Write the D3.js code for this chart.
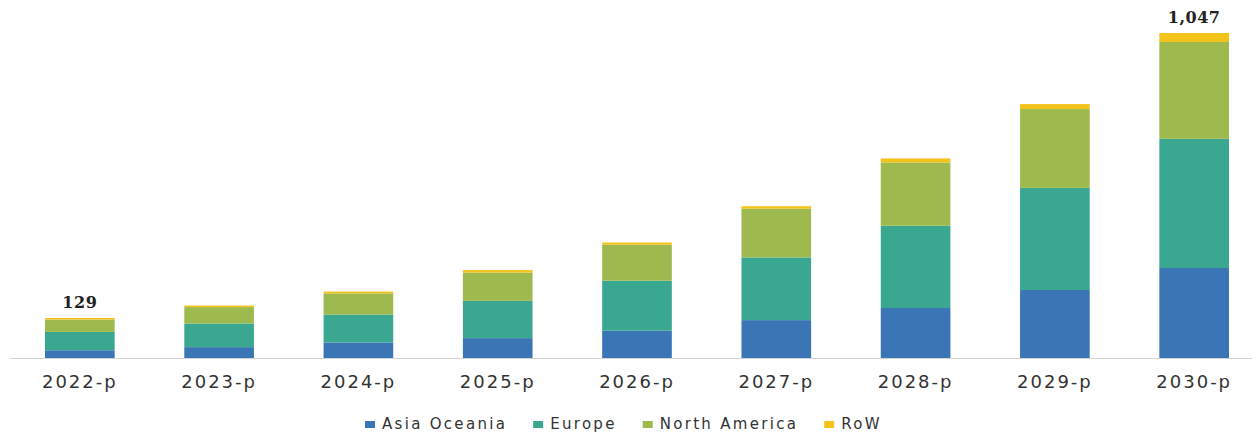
<!DOCTYPE html>
<html>
<head>
<meta charset="utf-8">
<script src="https://cdn.jsdelivr.net/npm/d3@7"></script>
<style>
  body { margin: 0; background: #fff; }
  svg { display: block; }
</style>
</head>
<body>
<div id="chart"></div>
<script>
var width = 1257
var height = 435

var years = ["2022-p", "2023-p", "2024-p", "2025-p", "2026-p", "2027-p", "2028-p", "2029-p", "2030-p"]
var regions = ["Asia Oceania", "Europe", "North America", "RoW"]
var asiaOceania  = [25, 35, 50, 64, 88, 122, 161, 219, 290]
var europe       = [59, 76, 90, 120, 161, 202, 265, 329, 416]
var northAmerica = [40, 53, 68, 91, 116, 157, 204, 254, 312]
var row          = [5, 5, 6, 8, 7, 8, 13, 16, 29]
var totalLabels  = {"2022-p": "129", "2030-p": "1,047"}
var colors = ["#3a75b6", "#3aa891", "#9eba4f", "#f3c21b"]

var table = years.map(function(y, i){
	return {
		year: y,
		"Asia Oceania": asiaOceania[i],
		"Europe": europe[i],
		"North America": northAmerica[i],
		"RoW": row[i]
	}
})

var svg = d3.select("#chart").append("svg")
	.attr("width", width)
	.attr("height", height)

var x = d3.scaleBand()
	.domain(years)
	.range([45, 1229])
	.paddingInner(0.5)
	.paddingOuter(0)

var y = d3.scaleLinear()
	.domain([0, 1047])
	.range([358, 33])

var color = d3.scaleOrdinal().domain(regions).range(colors)

var stack = d3.stack().keys(regions)(table)

svg.append("g").selectAll("g")
	.data(stack).enter()
	.append("g")
	  .attr("fill", function(d){ return color(d.key) })
	.selectAll("rect")
	.data(function(d){ return d }).enter()
	.append("rect")
	  .attr("x", function(d){ return x(d.data.year) })
	  .attr("width", x.bandwidth())
	  .attr("y", function(d){ return y(d[1]) })
	  .attr("height", function(d){ return y(d[0]) - y(d[1]) })

// baseline
svg.append("line")
	.attr("x1", 10).attr("x2", 1252)
	.attr("y1", y(0) + 0.5).attr("y2", y(0) + 0.5)
	.attr("stroke", "#d4d4d4")

var xAxis = svg.append("g")
	.attr("transform", "translate(0," + y(0) + ")")
	.call(d3.axisBottom(x).tickSize(0).tickPadding(0))
xAxis.select(".domain").remove()
xAxis.selectAll("text")
	.attr("y", 30)
	.attr("dy", 0)
	.attr("fill", "#333")
	.style("font-family", "DejaVu Sans")
	.style("font-size", "18px")
	.style("letter-spacing", "2px")

// total labels
svg.append("g").selectAll("text")
	.data(table.filter(function(d){ return totalLabels[d.year] })).enter()
	.append("text")
	  .attr("x", function(d){ return x(d.year) + x.bandwidth() / 2 })
	  .attr("y", function(d){ return y(d3.sum(regions, function(k){ return d[k] })) - 10 })
	  .attr("text-anchor", "middle")
	  .attr("fill", "#222")
	  .style("font-family", "DejaVu Serif")
	  .style("font-weight", "bold")
	  .style("font-size", "16px")
	  .style("letter-spacing", "0.5px")
	  .text(function(d){ return totalLabels[d.year] })

// legend
var legend = svg.append("g")
var lx = 365
regions.forEach(function(r){
	var g = legend.append("g").attr("transform", "translate(" + lx + ",0)")
	g.append("rect")
	  .attr("x", 0).attr("y", 421)
	  .attr("width", 10).attr("height", 7)
	  .attr("fill", color(r))
	var t = g.append("text")
	  .attr("x", 17).attr("y", 429)
	  .attr("fill", "#333")
	  .style("font-family", "DejaVu Sans")
	  .style("font-size", "15px")
	  .style("letter-spacing", "2.3px")
	  .text(r)
	lx += 17 + t.node().getComputedTextLength() + 26
})
</script>
</body>
</html>
